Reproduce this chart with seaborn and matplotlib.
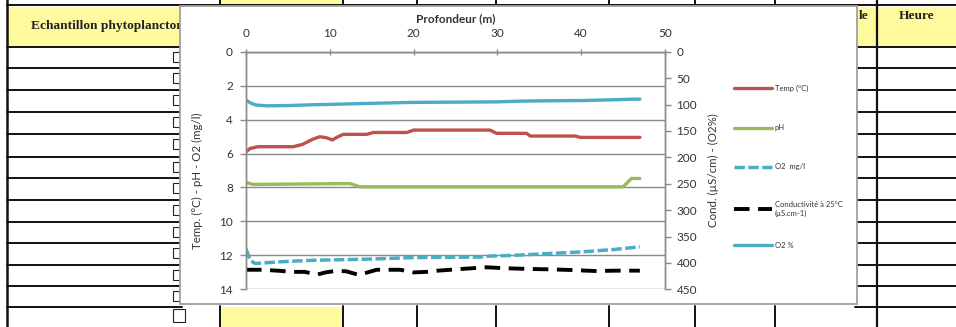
import matplotlib
matplotlib.use("Agg")
import matplotlib.pyplot as plt
import seaborn as sns
from matplotlib.patches import Rectangle
from matplotlib.lines import Line2D

# ---------------- data ----------------
temp_depth = [0, 0.5, 1.4, 5.6, 6.7, 8.0, 8.8, 9.6, 10.3, 10.9, 11.6, 14.4, 15.2, 19.2, 20.0,
              29.1, 29.9, 33.5, 33.9, 39.3, 39.9, 47.0]
temp_val = [5.9, 5.7, 5.6, 5.6, 5.47, 5.15, 5.01, 5.07, 5.2, 5.03, 4.87, 4.87, 4.76, 4.76, 4.62,
            4.62, 4.81, 4.81, 4.97, 4.97, 5.05, 5.05]

ph_depth = [0, 0.8, 12.4, 13.6, 45.0, 46.0, 47.0]
ph_val = [7.7, 7.82, 7.77, 7.96, 7.96, 7.47, 7.47]

o2_depth = [0, 0.5, 1.1, 4, 8, 14, 20, 28, 29.1, 31.9, 35.9, 39.9, 43.8, 47]
o2_val = [11.6, 12.3, 12.48, 12.38, 12.29, 12.23, 12.13, 12.1, 12.04, 12.0, 11.9, 11.8, 11.66, 11.5]

cond_depth = [0, 2, 4, 5.5, 7, 8.5, 9.5, 10.8, 12, 13.5, 14.5, 15.6, 18.4, 20, 21.5, 22.9, 25.7,
              28.7, 31.3, 33.9, 36.3, 38.7, 41.6, 44.2, 47]
cond_val = [413, 413, 415, 417, 417, 422, 418, 415, 416, 423, 418, 413, 413, 418, 417, 414.7, 411.5,
            408.3, 410.3, 411.5, 412.2, 413.4, 415.3, 414.7, 414.7]

o2p_depth = [0, 0.5, 1.2, 2.5, 5, 8, 12, 16, 20, 25, 30, 33, 36, 40, 44, 46, 47]
o2p_val = [91, 97, 101, 102.5, 102, 100.5, 99, 97.4, 96, 95.5, 95, 93.5, 93, 92.5, 91, 90, 89.8]

left_ticks = [0, 2, 4, 6, 8, 10, 12, 14]
right_ticks = [0, 50, 100, 150, 200, 250, 300, 350, 400, 450]
x_ticks = [0, 10, 20, 30, 40, 50]

labels = ["Temp (°C)", "pH", "O2  mg/l", "Conductivité à 25°C\n(µS.cm-1)", "O2 %"]

# table background (screenshot context)
row_lines = [47, 68, 90, 112, 134, 156.5, 178, 199.5, 221.5, 243, 264.5, 286, 307]
col_lines = [220, 343, 417, 496, 609, 695, 775, 877]

RED = "#C0504D"
GREEN = "#9BBB59"
AQUA = "#4BACC6"
GRAY = "#8a8a8a"
TXT = "#333333"
YEL = "#FFFA9E"

sns.set_theme(style="white")
plt.rcParams['font.family'] = ['Lato', 'DejaVu Sans']

W, H = 956, 327
fig = plt.figure(figsize=(W / 100, H / 100), dpi=100)

# ---------- background table ----------
bg = fig.add_axes([0, 0, 1, 1], zorder=0)
bg.set_xlim(0, W)
bg.set_ylim(H, 0)
bg.axis("off")
K = "#111111"
bg.add_patch(Rectangle((220, 0), 123, 5, fc=YEL, ec="none", zorder=1))
bg.add_patch(Rectangle((8, 7), 172, 40, fc=YEL, ec="none", zorder=1))
bg.add_patch(Rectangle((857, 7), 99, 40, fc=YEL, ec="none", zorder=1))
bg.add_patch(Rectangle((220, 307), 123, 20, fc=YEL, ec="none", zorder=1))
bg.add_line(Line2D([7, W], [5, 5], color=K, lw=1.4, zorder=2))
for cx in col_lines:
    bg.add_line(Line2D([cx, cx], [0, 6], color=K, lw=1.4, zorder=2))
    bg.add_line(Line2D([cx, cx], [306, H], color=K, lw=1.4, zorder=2))
bg.add_line(Line2D([7, 7], [0, H], color=K, lw=1.8, zorder=2))
bg.add_line(Line2D([877, 877], [0, H], color=K, lw=1.6, zorder=2))
for ry in row_lines:
    bg.add_line(Line2D([7, 182], [ry, ry], color=K, lw=1.4, zorder=2))
    bg.add_line(Line2D([855, W], [ry, ry], color=K, lw=1.4, zorder=2))
for a, b in zip(row_lines[:-1], row_lines[1:]):
    bg.add_patch(Rectangle((173, a + 5), 12, 10, fc="white", ec="#222222", lw=0.8, zorder=3))
bg.add_patch(Rectangle((173, 309), 12, 13, fc="white", ec="#222222", lw=0.8, zorder=3))
bg.text(31, 26, "Echantillon phytoplancton", family="Liberation Serif", weight="bold",
        fontsize=9.6, color="#222222", ha="left", va="center", zorder=3)
bg.text(917, 16, "Heure", family="Liberation Serif", weight="bold",
        fontsize=9.6, color="#222222", ha="center", va="center", zorder=3)
bg.text(869, 16, "le", family="Liberation Serif", weight="bold",
        fontsize=9.6, color="#222222", ha="right", va="center", zorder=3)
# chart box
bg.add_patch(Rectangle((180, 6), 677, 298, fc="white", ec="#a0a0a0", lw=1.3, zorder=5))

# ---------- chart ----------
x0, x1, y0, y1 = 246, 665, 51.7, 289.3
ax = fig.add_axes([x0 / W, 1 - y1 / H, (x1 - x0) / W, (y1 - y0) / H], zorder=2)
ax.patch.set_visible(False)
ax2 = ax.twinx()
ax2.set_zorder(3)
ax2.patch.set_visible(False)

sns.lineplot(x=temp_depth, y=temp_val, ax=ax, color=RED, lw=2.4, legend=False)
sns.lineplot(x=ph_depth, y=ph_val, ax=ax, color=GREEN, lw=2.4, legend=False)
sns.lineplot(x=o2_depth, y=o2_val, ax=ax, color=AQUA, lw=2.5, linestyle=(0, (3, 1)), legend=False)
sns.lineplot(x=cond_depth, y=cond_val, ax=ax2, color="black", lw=2.8, linestyle=(0, (4, 2.2)), legend=False)
sns.lineplot(x=o2p_depth, y=o2p_val, ax=ax2, color=AQUA, lw=2.4, legend=False)

ax.set_xlim(0, 50)
ax.set_ylim(14, 0)
ax2.set_ylim(450, 0)
ax.set_xticks(x_ticks)
ax.set_yticks(left_ticks)
ax2.set_yticks(right_ticks)
ax.xaxis.tick_top()
ax.xaxis.set_label_position("top")
ax.set_xlabel("Profondeur (m)", fontsize=8.5, weight="bold", color=TXT)
ax.xaxis.set_label_coords(0.5, 1.125)
ax.set_ylabel("Temp. (°C) - pH - O2 (mg/l)", fontsize=8.3, color=TXT)
ax.yaxis.set_label_coords(-0.103, 0.455)
ax2.set_ylabel("Cond. (µS/cm) - (O2%)", fontsize=8.3, color=TXT)
ax2.yaxis.set_label_coords(1.103, 0.5)

ax.grid(axis="y", color=GRAY, lw=1.0)
ax.grid(axis="x", visible=False)
ax2.grid(False)
for a in (ax, ax2):
    for s in a.spines.values():
        s.set_color(GRAY)
        s.set_linewidth(1.0)
ax.spines["bottom"].set_visible(False)
ax2.spines["bottom"].set_visible(False)

ax.tick_params(axis="y", direction="out", length=4, width=1, color=GRAY, pad=5.5,
               labelsize=8.5, labelcolor=TXT, left=True)
ax2.tick_params(axis="y", direction="out", length=4, width=1, color=GRAY, pad=4.3,
                labelsize=8.5, labelcolor=TXT, right=True)
ax.tick_params(axis="x", direction="inout", length=4, width=1, color=GRAY, pad=7,
               labelsize=8.5, labelcolor=TXT, top=True, bottom=False)

# ---------- legend (one entry per line, stacked like the original) ----------
handles = [ax.lines[0], ax.lines[1], ax.lines[2], ax2.lines[0], ax2.lines[1]]
leg_y = [88, 128, 167, 209, 245]
for h, lab, yy in zip(handles, labels, leg_y):
    fig.legend(handles=[h], labels=[lab], loc="center left",
               bbox_to_anchor=(734 / W, 1 - yy / H), frameon=False, fontsize=5.5,
               handlelength=5.0, handletextpad=0.35, borderpad=0, borderaxespad=0,
               labelcolor=TXT)

fig.savefig("out.png", dpi=100)
